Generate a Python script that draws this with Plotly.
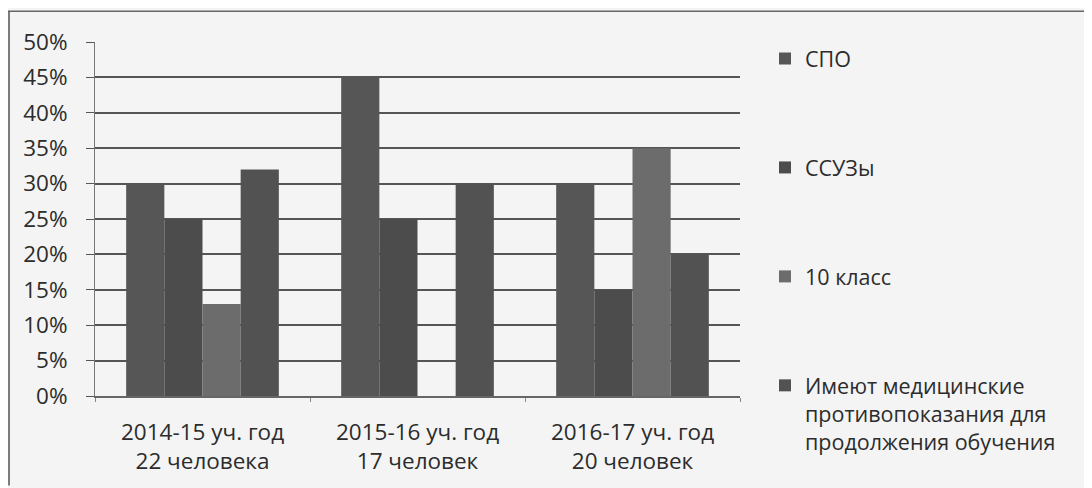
import plotly.graph_objects as go

categories = ["2014-15 уч. год<br>22 человека", "2015-16 уч. год<br>17 человек", "2016-17 уч. год<br>20 человек"]
series_names = ["СПО", "ССУЗы", "10 класс", "Имеют медицинские<br>противопоказания для<br>продолжения обучения"]
spo = [0.30, 0.45, 0.30]
ssuz = [0.25, 0.25, 0.15]
klass10 = [0.13, 0.0, 0.35]
med = [0.32, 0.30, 0.20]
series_values = [spo, ssuz, klass10, med]
colors = ["#565656", "#4c4c4c", "#6c6c6c", "#525252"]
y_ticks = [0, 0.05, 0.10, 0.15, 0.20, 0.25, 0.30, 0.35, 0.40, 0.45, 0.50]
y_labels = ["0%", "5%", "10%", "15%", "20%", "25%", "30%", "35%", "40%", "45%", "50%"]

# page body has an 8px margin, so the figure is placed at (8, 8)
W, H = 1084, 480
L, R, T, B = 87, 352, 34, 90

fig = go.Figure()
for i, (name, vals, col) in enumerate(zip(series_names, series_values, colors)):
    fig.add_trace(go.Bar(x=categories, y=vals, name=name, marker_color=col,
                         marker_line_width=0, legendgroup=str(i)))

pw = W - L - R
ph = H - T - B
def px_x(p):
    return (p - L) / pw
def px_y(p):
    return (H - B - p) / ph

txt = "#2c2c2c"
fig.update_layout(
    width=W, height=H,
    margin=dict(l=L, r=R, t=T, b=B),
    paper_bgcolor="#f4f4f4", plot_bgcolor="#f4f4f4",
    barmode="group", bargap=0.29, bargroupgap=0,
    font=dict(family="Open Sans", size=22, color=txt),
    showlegend=True,
    legend=dict(x=px_x(757), y=px_y(30), xanchor="left", yanchor="top",
                bgcolor="rgba(0,0,0,0)", tracegroupgap=78, valign="top",
                maxheight=470, font=dict(size=21.5, color=txt), itemwidth=30),
    xaxis=dict(showgrid=False, ticks="outside", tickson="boundaries", ticklen=4,
               tickcolor="#888888", showline=True, linecolor="#666666", linewidth=1.5,
               ticklabelstandoff=15, tickfont=dict(size=22.5, color=txt)),
    yaxis=dict(range=[0, 0.5], tickvals=y_ticks, ticktext=y_labels,
               showgrid=True, gridcolor="#555555", gridwidth=1.5,
               ticks="outside", ticklen=8, tickcolor="#555555",
               showline=True, linecolor="#777777", linewidth=1,
               ticklabelstandoff=14,
               zeroline=False, tickfont=dict(size=22.5, color=txt)),
    shapes=[
        dict(type="line", xref="paper", yref="paper", x0=px_x(0), x1=px_x(W),
             y0=px_y(3), y1=px_y(3), line=dict(color="#666666", width=1.5)),
        dict(type="line", xref="paper", yref="paper", x0=px_x(1), x1=px_x(1),
             y0=px_y(3), y1=px_y(H), line=dict(color="#555555", width=1.5)),
    ],
)

fig.write_html("out.html")
